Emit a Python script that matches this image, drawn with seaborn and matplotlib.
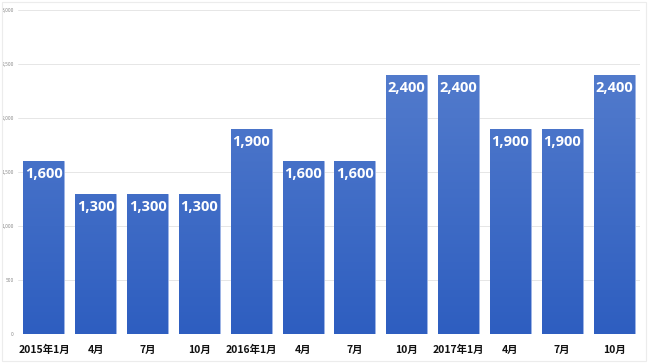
import matplotlib
matplotlib.use("Agg")
import matplotlib.pyplot as plt
import seaborn as sns
import numpy as np
import pandas as pd
from matplotlib.colors import LinearSegmentedColormap

categories = ["2015年1月", "4月", "7月", "10月", "2016年1月", "4月", "7月", "10月",
              "2017年1月", "4月", "7月", "10月"]
values = [1600, 1300, 1300, 1300, 1900, 1600, 1600, 2400, 2400, 1900, 1900, 2400]
yticks = [0, 500, 1000, 1500, 2000, 2500, 3000]

sns.set_theme(style="white")
plt.rcParams['font.family'] = ['Noto Sans CJK JP', 'DejaVu Sans']

df = pd.DataFrame({"pos": [str(i) for i in range(len(categories))], "value": values})

fig = plt.figure(figsize=(6.48, 3.63), dpi=100)
ax = fig.add_axes([18/648, 1 - 334/363, 622/648, 324/363])

sns.barplot(data=df, x="pos", y="value", ax=ax, color="#3f6dc8", width=0.79,
            saturation=1, edgecolor="#9db4e6", linewidth=0.6, zorder=3)

cmap = LinearSegmentedColormap.from_list("g", ["#2e5ec0", "#5b82cf"])
grad = np.linspace(0, 1, 256).reshape(-1, 1)
for p in ax.patches:
    x0, y0 = p.get_x(), p.get_y()
    w, h = p.get_width(), p.get_height()
    im = ax.imshow(grad, cmap=cmap, aspect="auto", origin="lower",
                   extent=[x0, x0 + w, 0, 3000], zorder=3.5)
    im.set_clip_path(p)
    ax.text(x0 + w / 2, h - 55, f"{int(h):,}", ha="center", va="top",
            color="white", fontsize=10.5, fontweight="bold",
            family=["Open Sans", "DejaVu Sans"], zorder=5)

ax.set_ylim(0, 3000)
ax.set_xlim(-0.5, len(categories) - 0.5)
ax.set_yticks(yticks)
ax.set_yticklabels([f"{v:,}" for v in yticks], fontsize=3.5, color="#8a8a8a")
ax.set_xticks(range(len(categories)))
ax.set_xticklabels(categories, fontsize=7.5, fontweight="bold", color="#111111")
ax.tick_params(axis="x", length=0, pad=8)
ax.tick_params(axis="y", length=0, pad=3)
ax.set_xlabel("")
ax.set_ylabel("")
ax.grid(axis="y", color="#e6e6e6", linewidth=0.7, zorder=0)
ax.set_axisbelow(True)
for s in ax.spines.values():
    s.set_visible(False)

border = plt.Rectangle((2/648, 2/363), 644/648, 359/363, transform=fig.transFigure,
                       fill=False, edgecolor="#ececec", linewidth=0.8)
fig.patches.append(border)

fig.savefig("out.png", dpi=100)
